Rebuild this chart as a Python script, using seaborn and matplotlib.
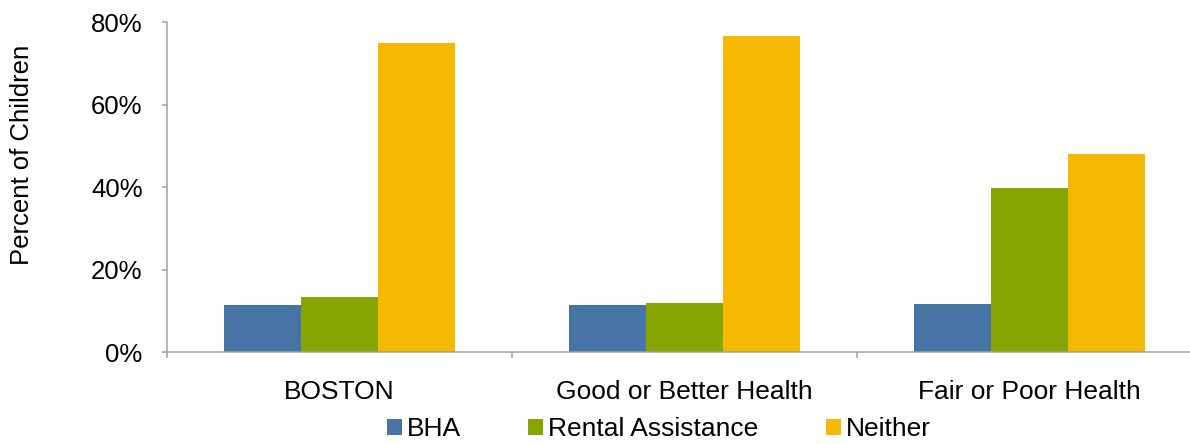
import matplotlib
matplotlib.use("Agg")
import matplotlib.pyplot as plt
import seaborn as sns
import pandas as pd
from matplotlib.ticker import FixedLocator, FuncFormatter

categories = ["BOSTON", "Good or Better Health", "Fair or Poor Health"]
series_names = ["BHA", "Rental Assistance", "Neither"]
bha = [11.5, 11.5, 11.7]
rental = [13.3, 11.9, 39.9]
neither = [75.1, 76.7, 48.1]
y_ticks = [0, 20, 40, 60, 80]
colors = ["#4674A5", "#87A500", "#F4B900"]

rows = []
for name, vals in zip(series_names, [bha, rental, neither]):
    for c, v in zip(categories, vals):
        rows.append({"Category": c, "Series": name, "Value": v})
df = pd.DataFrame(rows)

sns.set_style("white")
plt.rcParams["font.family"] = ["Liberation Sans", "DejaVu Sans"]
plt.rcParams["text.color"] = "black"
plt.rcParams["axes.labelcolor"] = "black"
plt.rcParams["xtick.labelcolor"] = "black"
plt.rcParams["ytick.labelcolor"] = "black"

fig = plt.figure(figsize=(11.9, 4.44), dpi=100)
ax = fig.add_axes([167/1190, 1 - 352.3/444, 1 - 167/1190, (352.3 - 22.3)/444])

sns.barplot(data=df, x="Category", y="Value", hue="Series", order=categories,
            hue_order=series_names, palette=colors, width=0.67, gap=0,
            linewidth=0, saturation=1, ax=ax, errorbar=None)

ax.set_xlim(-0.5, 2.465)
ax.set_ylim(0, 80)
ax.yaxis.set_major_locator(FixedLocator(y_ticks))
ax.yaxis.set_major_formatter(FuncFormatter(lambda v, p: f"{int(v)}%"))

for s in ["top", "right"]:
    ax.spines[s].set_visible(False)
for s in ["left", "bottom"]:
    ax.spines[s].set_color("#A0A0A0")
    ax.spines[s].set_linewidth(1.1)

ax.set_xlabel("")
ax.set_ylabel("Percent of Children", fontsize=18.5, color="black")
ax.yaxis.set_label_coords(34/1190, 1 - 155/444, transform=fig.transFigure)

ax.tick_params(axis="x", which="major", length=0, pad=20, labelsize=19,
               labelcolor="black")
ax.xaxis.set_minor_locator(FixedLocator([-0.5, 0.5, 1.5, 2.5]))
ax.tick_params(axis="x", which="minor", bottom=True, direction="out", length=4.5,
               width=1.1, color="#A0A0A0")
ax.tick_params(axis="y", which="major", left=True, direction="out", length=3.6,
               width=1.1, color="#A0A0A0", pad=14, labelsize=18.5,
               labelcolor="black")

handles, labels = ax.get_legend_handles_labels()
ax.legend_.remove()
fig.legend(handles, labels, loc="center", bbox_to_anchor=(659/1190, 15/444),
           ncol=3, frameon=False, fontsize=19, handlelength=0.56,
           handleheight=0.56, handletextpad=0.2, columnspacing=2.55,
           borderpad=0, borderaxespad=0, labelcolor="black")

fig.savefig("out.png", dpi=100)
